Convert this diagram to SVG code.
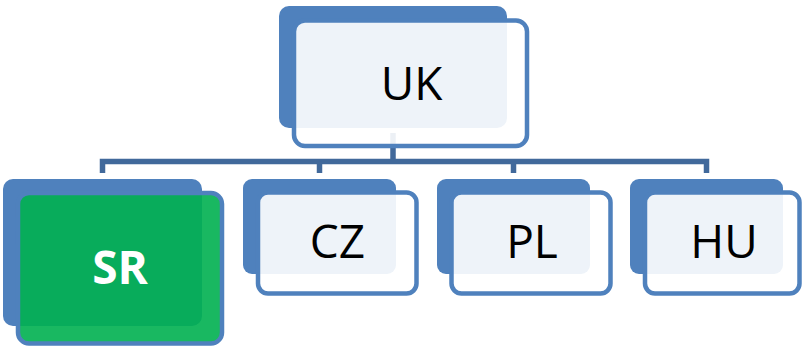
<svg xmlns="http://www.w3.org/2000/svg" width="802" height="346" viewBox="0 0 802 346">
  <style>
    .back { fill: #4F81BD; }
    .front { fill: #FFFFFF; fill-opacity: 0.9; stroke: #4F81BD; stroke-width: 4.5; }
    .front.hl { fill: #00B050; }
    .lbl { font-family: "Open Sans", "Noto Sans", "DejaVu Sans", sans-serif; font-size: 46px; fill: #000000; text-anchor: middle; }
    .lbl.hl { fill: #FFFFFF; font-weight: bold; }
    .conn { fill: none; stroke: #41699B; stroke-width: 5.5; }
  </style>

  <!-- hierarchy connectors -->
  <g id="connectors">
    <path class="conn" d="M393,133 V161.5"/>
    <path class="conn" d="M102.5,173 V161.5 H706.5 V173"/>
    <path class="conn" d="M319.5,161.5 V173"/>
    <path class="conn" d="M513.5,161.5 V173"/>
  </g>

  <!-- root -->
  <g id="node-uk">
    <rect class="back" x="279" y="6" width="228" height="122" rx="10"/>
    <rect class="front" x="294" y="20.5" width="233" height="125.5" rx="11"/>
    <text class="lbl" x="411.5" y="100">UK</text>
  </g>

  <!-- children -->
  <g id="node-sr">
    <rect class="back" x="3" y="179" width="199" height="147" rx="10"/>
    <rect class="front hl" x="18" y="193" width="204" height="150.5" rx="11"/>
    <text class="lbl hl" x="120" y="284">SR</text>
  </g>

  <g id="node-cz">
    <rect class="back" x="243" y="179" width="153" height="95" rx="9"/>
    <rect class="front" x="258" y="192.5" width="158.5" height="101" rx="10"/>
    <text class="lbl" x="337.5" y="258">CZ</text>
  </g>

  <g id="node-pl">
    <rect class="back" x="437" y="179" width="153" height="95" rx="9"/>
    <rect class="front" x="451.5" y="192.5" width="159" height="101" rx="10"/>
    <text class="lbl" x="532" y="258">PL</text>
  </g>

  <g id="node-hu">
    <rect class="back" x="630" y="179" width="153" height="95" rx="9"/>
    <rect class="front" x="645" y="192.5" width="154.5" height="101" rx="10"/>
    <text class="lbl" x="724" y="258">HU</text>
  </g>
</svg>
